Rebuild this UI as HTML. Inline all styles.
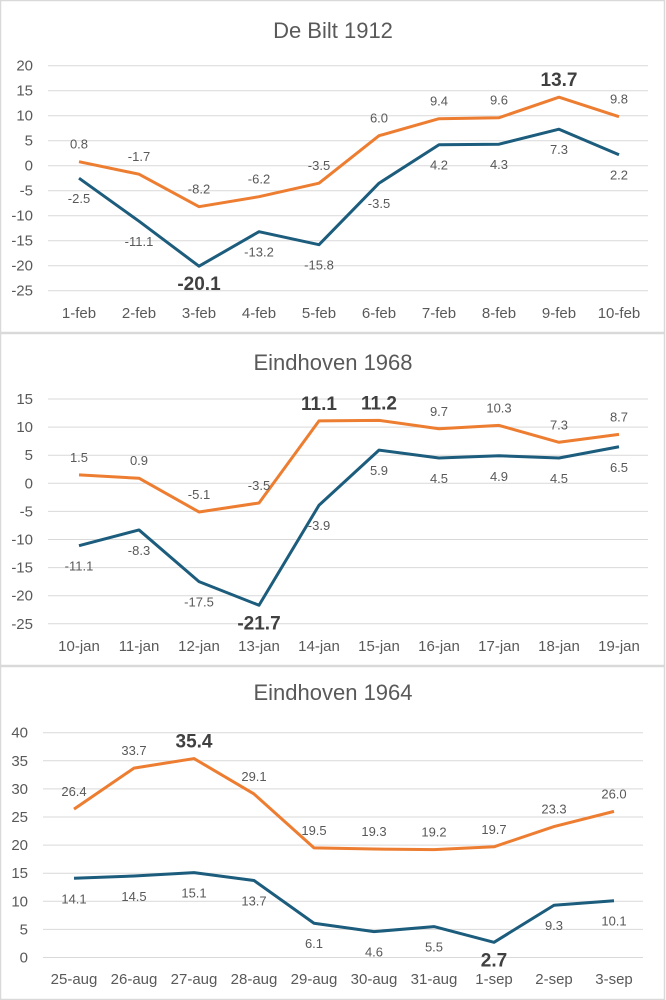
<!DOCTYPE html>
<html><head><meta charset="utf-8"><style>
html,body{margin:0;padding:0;background:#fff;}
svg{display:block;font-family:"Liberation Sans",sans-serif;}
</style></head><body>
<svg id="s" width="666" height="1000" xmlns="http://www.w3.org/2000/svg"></svg>
<script>
const S=document.getElementById('s');
let h='';
h+='<rect x="0" y="0" width="666" height="1000" fill="#fff"/>';
const panels=[
{top:0,title:'De Bilt 1912',ty:30,cats:['1-feb','2-feb','3-feb','4-feb','5-feb','6-feb','7-feb','8-feb','9-feb','10-feb'],
 o:[0.8,-1.7,-8.2,-6.2,-3.5,6.0,9.4,9.6,13.7,9.8],b:[-2.5,-11.1,-20.1,-13.2,-15.8,-3.5,4.2,4.3,7.3,2.2],
 ymax:20,ymin:-25,y0:65.7,px:25,x0:79,gl:48,xl:313,bo:8,bb:2},
{top:333,title:'Eindhoven 1968',ty:362,cats:['10-jan','11-jan','12-jan','13-jan','14-jan','15-jan','16-jan','17-jan','18-jan','19-jan'],
 o:[1.5,0.9,-5.1,-3.5,11.1,11.2,9.7,10.3,7.3,8.7],b:[-11.1,-8.3,-17.5,-21.7,-3.9,5.9,4.5,4.9,4.5,6.5],
 ymax:15,ymin:-25,y0:399,px:28.1,x0:79,gl:48,xl:646,bo:[4,5],bb:3},
{top:666,title:'Eindhoven 1964',ty:692,cats:['25-aug','26-aug','27-aug','28-aug','29-aug','30-aug','31-aug','1-sep','2-sep','3-sep'],
 o:[26.4,33.7,35.4,29.1,19.5,19.3,19.2,19.7,23.3,26.0],b:[14.1,14.5,15.1,13.7,6.1,4.6,5.5,2.7,9.3,10.1],
 ymax:40,ymin:0,y0:732.7,px:28.1,x0:74,gl:43,xl:979,bo:2,bb:7}
];
panels.forEach((p,pi)=>{
 h+=`<rect x="0.5" y="${p.top+0.5}" width="664" height="${pi==2?333:332}" fill="none" stroke="#d9d9d9" stroke-width="1.5"/>`;
 h+=`<text x="333" y="${p.ty+8}" text-anchor="middle" font-size="22" fill="#595959">${p.title}</text>`;
 const Y=v=>p.y0+(p.ymax-v)/5*p.px;
 const X=i=>p.x0+i*60;
 for(let v=p.ymax;v>=p.ymin;v-=5){
  const y=Y(v);
  h+=`<line x1="${p.gl}" x2="${p.gl+600}" y1="${y}" y2="${y}" stroke="#d9d9d9" stroke-width="1"/>`;
  h+=`<text x="${pi==2?28:33}" y="${y+5}" text-anchor="end" font-size="15" fill="#595959">${v}</text>`;
 }
 p.cats.forEach((c,i)=>{h+=`<text x="${X(i)}" y="${p.xl+5}" text-anchor="middle" font-size="15" fill="#595959">${c}</text>`;});
 const line=(arr,col)=>{h+=`<polyline fill="none" stroke="${col}" stroke-width="3" stroke-linejoin="round" points="${arr.map((v,i)=>X(i)+','+Y(v)).join(' ')}"/>`;};
 line(p.b,'#1c5c7c');line(p.o,'#ed7d31');
 const bo=Array.isArray(p.bo)?p.bo:[p.bo];
 p.o.forEach((v,i)=>{const b=bo.includes(i);
  h+=`<text x="${X(i)}" y="${Y(v)-(b?11:13)}" text-anchor="middle" font-size="${b?19:13}" font-weight="${b?'bold':'normal'}" fill="${b?'#404040':'#595959'}">${v.toFixed(1)}</text>`;});
 p.b.forEach((v,i)=>{const b=i==p.bb;
  h+=`<text x="${X(i)}" y="${Y(v)+(b?24:25)}" text-anchor="middle" font-size="${b?19:13}" font-weight="${b?'bold':'normal'}" fill="${b?'#404040':'#595959'}">${v.toFixed(1)}</text>`;});
});
S.innerHTML=h;
</script>
</body></html>
